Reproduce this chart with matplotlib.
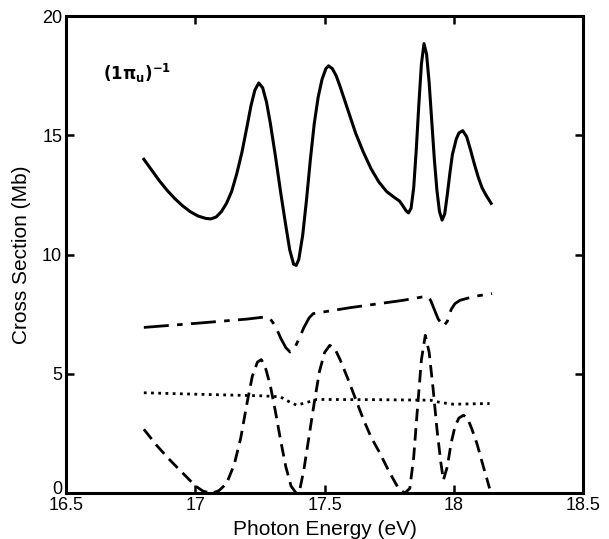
import matplotlib
matplotlib.use('Agg')
import matplotlib.pyplot as plt
import matplotlib.transforms as mtransforms

plt.rcParams['font.family'] = ['Liberation Sans', 'DejaVu Sans']
plt.rcParams['mathtext.fontset'] = 'dejavusans'

# total (1pi_u)^-1 cross section, solid line
tot_x = [16.80, 16.83, 16.86, 16.89, 16.92, 16.95, 16.98, 17.01, 17.04, 17.06,
         17.08, 17.10, 17.12, 17.14, 17.16, 17.18, 17.20, 17.215, 17.23, 17.245,
         17.26, 17.275, 17.29, 17.31, 17.33, 17.35, 17.365, 17.38, 17.39, 17.40,
         17.415, 17.43, 17.445, 17.46, 17.475, 17.49, 17.505, 17.515, 17.53, 17.545,
         17.56, 17.58, 17.60, 17.62, 17.65, 17.68, 17.71, 17.74, 17.77, 17.79,
         17.80, 17.815, 17.825, 17.835, 17.845, 17.855, 17.865, 17.875, 17.885, 17.895,
         17.905, 17.915, 17.925, 17.935, 17.945, 17.955, 17.965, 17.975, 17.985, 17.995,
         18.01, 18.02, 18.035, 18.05, 18.065, 18.08, 18.095, 18.11, 18.125, 18.145]
tot_y = [14.0, 13.55, 13.1, 12.7, 12.35, 12.05, 11.8, 11.62, 11.52, 11.5,
         11.58, 11.8, 12.15, 12.65, 13.4, 14.3, 15.4, 16.25, 16.9, 17.2,
         17.0, 16.4, 15.5, 14.1, 12.6, 11.2, 10.2, 9.6, 9.55, 9.8,
         10.8, 12.3, 14.0, 15.5, 16.6, 17.35, 17.8, 17.92, 17.8, 17.5,
         17.05, 16.4, 15.75, 15.1, 14.3, 13.6, 13.05, 12.65, 12.4, 12.25,
         12.1, 11.85, 11.75, 11.95, 12.8, 14.4, 16.3, 18.0, 18.85, 18.4,
         17.2, 15.6, 14.0, 12.7, 11.8, 11.45, 11.7, 12.5, 13.4, 14.2,
         14.85, 15.1, 15.2, 14.95, 14.4, 13.8, 13.25, 12.8, 12.5, 12.15]

# dash-dot curve
dd_x = [16.80, 17.00, 17.20, 17.27, 17.29, 17.31, 17.33, 17.35, 17.366, 17.38,
        17.40, 17.42, 17.44, 17.456, 17.60, 17.80, 17.896, 17.91, 17.925, 17.94,
        17.96, 17.975, 17.99, 18.005, 18.025, 18.08, 18.148]
dd_y = [6.95, 7.12, 7.30, 7.39, 7.3, 7.0, 6.5, 6.1, 5.92, 6.0,
        6.45, 6.95, 7.35, 7.53, 7.78, 8.08, 8.26, 8.1, 7.7, 7.3,
        7.0, 7.2, 7.7, 7.95, 8.09, 8.25, 8.37]

# dotted curve
dot_x = [16.80, 17.00, 17.263, 17.328, 17.36, 17.392, 17.43, 17.47, 17.70, 17.909,
         17.95, 17.999, 18.139]
dot_y = [4.21, 4.15, 4.08, 4.04, 3.85, 3.69, 3.8, 3.93, 3.92, 3.90,
         3.8, 3.73, 3.76]

# dashed curve
dsh_x = [16.80, 16.85, 16.90, 16.95, 17.00, 17.03, 17.063, 17.09, 17.12, 17.15,
         17.175, 17.20, 17.22, 17.24, 17.255, 17.27, 17.29, 17.31, 17.33, 17.35,
         17.37, 17.39, 17.405, 17.42, 17.44, 17.46, 17.48, 17.50, 17.52, 17.54,
         17.56, 17.59, 17.62, 17.65, 17.68, 17.715, 17.75, 17.786, 17.81, 17.83,
         17.845, 17.86, 17.875, 17.89, 17.905, 17.92, 17.935, 17.95, 17.96, 17.975,
         17.99, 18.005, 18.02, 18.038, 18.055, 18.07, 18.09, 18.11, 18.139]
dsh_y = [2.68, 2.0, 1.4, 0.85, 0.3, 0.08, 0.0, 0.1, 0.4, 1.2,
         2.3, 3.8, 4.9, 5.5, 5.6, 5.3, 4.5, 3.4, 2.2, 1.1,
         0.3, 0.0, 0.2, 1.0, 2.4, 3.8, 5.1, 5.9, 6.2, 6.05,
         5.6, 4.8, 3.95, 3.1, 2.35, 1.66, 0.9, 0.2, 0.0, 0.2,
         1.5, 3.6, 5.6, 6.62, 5.9, 4.4, 2.7, 1.3, 0.55, 1.1,
         2.1, 2.8, 3.15, 3.27, 3.1, 2.7, 2.08, 1.3, 0.2]

x_ticks = [16.5, 17, 17.5, 18, 18.5]
x_tick_labels = ['16.5', '17', '17.5', '18', '18.5']
y_ticks = [0, 5, 10, 15, 20]

fig = plt.figure(figsize=(6.09, 5.39), dpi=100)
ax = fig.add_axes([0.109, 0.085, 0.848, 0.885])

ax.plot(tot_x, tot_y, color='black', lw=2.2, ls='-')
ax.plot(dd_x, dd_y, color='black', lw=2.0, dashes=(9, 3, 2, 3))
ax.plot(dot_x, dot_y, color='black', lw=2.0, dashes=(1, 1.6))
ax.plot(dsh_x, dsh_y, color='black', lw=2.0, dashes=(4.5, 2.5))

ax.text(16.64, 17.6, r'$\mathbf{(1\pi_u)^{-1}}$', fontsize=12, va='center', ha='left')

ax.set_xlim(16.5, 18.5)
ax.set_ylim(0, 20)
ax.set_xticks(x_ticks)
ax.set_xticklabels(x_tick_labels)
ax.set_yticks(y_ticks)
ax.tick_params(direction='in', length=6, width=1.8, top=True, right=True,
               labelsize=13, pad=3)
for s in ax.spines.values():
    s.set_linewidth(2.2)

# nudge the "0" label up so it does not run into "16.5"
lab0 = ax.get_yticklabels()[0]
lab0.set_transform(lab0.get_transform() + mtransforms.ScaledTranslation(0, 4 / 72, fig.dpi_scale_trans))

ax.set_xlabel('Photon Energy (eV)', fontsize=15, labelpad=4)
ax.set_ylabel('Cross Section (Mb)', fontsize=15, labelpad=8)

fig.savefig('out.png', dpi=100)
